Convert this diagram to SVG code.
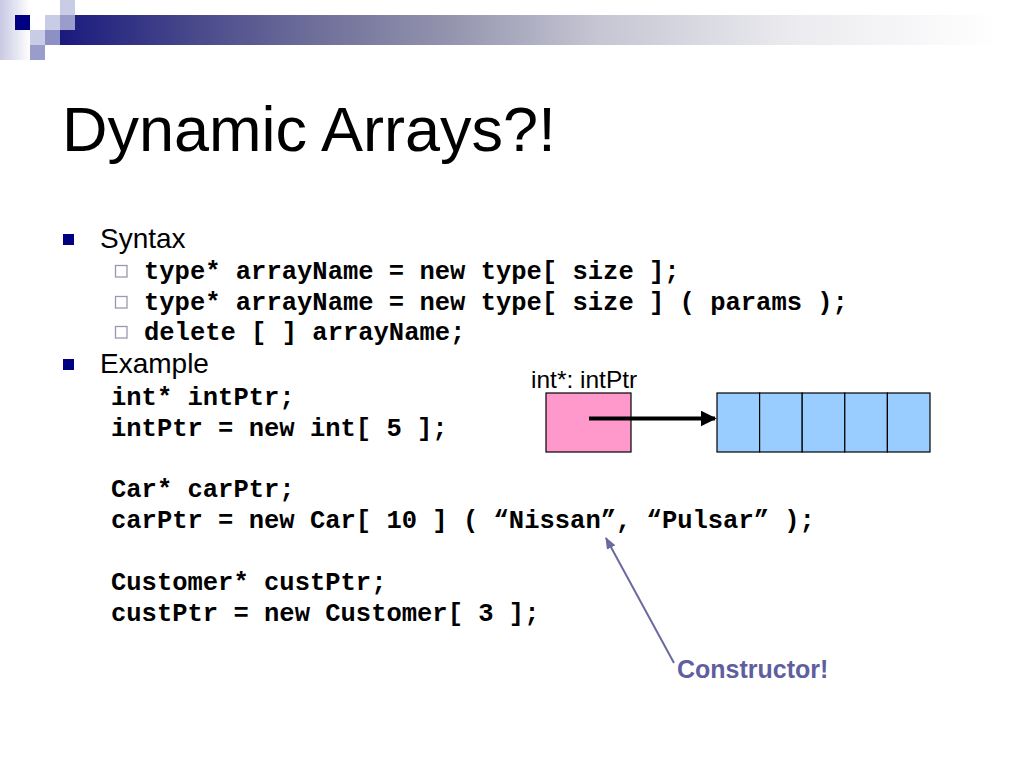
<svg xmlns="http://www.w3.org/2000/svg" width="1024" height="768" viewBox="0 0 1024 768">
<style>
.title{font-family:"Liberation Sans",Arial,sans-serif;font-size:63px;fill:#000}
.lvl1{font-family:"Liberation Sans",Arial,sans-serif;font-size:28px;fill:#000}
.code{font-family:"Liberation Mono","Courier New",monospace;font-weight:bold;font-size:25.5px;fill:#000}
.lbl{font-family:"Liberation Sans",Arial,sans-serif;font-size:24.5px;fill:#000}
.note{font-family:"Liberation Sans",Arial,sans-serif;font-size:25px;font-weight:bold;fill:#5f5f9f}
.b1{fill:#000080}
.b2{fill:#fff;stroke:#9898b0;stroke-width:1.3}
.cell{fill:#99ccff;stroke:#000;stroke-width:1.2}
</style>
<defs>
<linearGradient id="bar" x1="60" y1="0" x2="1000" y2="0" gradientUnits="userSpaceOnUse">
<stop offset="0" stop-color="#1a1a7e"/>
<stop offset="0.128" stop-color="#44448a"/>
<stop offset="0.255" stop-color="#6a6a98"/>
<stop offset="0.415" stop-color="#9494ae"/>
<stop offset="0.574" stop-color="#c6c6d4"/>
<stop offset="0.787" stop-color="#ececf0"/>
<stop offset="1" stop-color="#ffffff"/>
</linearGradient>
<linearGradient id="side" x1="0" y1="0" x2="1" y2="0">
<stop offset="0" stop-color="#c8c8e4"/>
<stop offset="1" stop-color="#ffffff"/>
</linearGradient>
<marker id="ahBlack" viewBox="0 0 10 10" refX="9" refY="5" markerWidth="4" markerHeight="4" orient="auto" markerUnits="strokeWidth">
<path d="M0,0 L10,5 L0,10 Z" fill="#000"/>
</marker>
<marker id="ahBlue" viewBox="0 0 10 10" refX="9" refY="5" markerWidth="6" markerHeight="6" orient="auto" markerUnits="strokeWidth">
<path d="M0,1 L10,5 L0,9 Z" fill="#6a6aa0"/>
</marker>
</defs>
<rect width="1024" height="768" fill="#fff"/>
<g id="header">
<rect x="0" y="0" width="30" height="60" fill="url(#side)"/>
<rect x="75" y="15" width="925" height="15" fill="url(#bar)"/>
<rect x="60" y="30" width="940" height="15" fill="url(#bar)"/>
<rect x="15" y="15" width="15" height="15" fill="#000080"/>
<rect x="60" y="0" width="15" height="15" fill="#c8cce4"/>
<rect x="45" y="15" width="15" height="15" fill="#c8cce4"/>
<rect x="60" y="15" width="15" height="15" fill="#9a9ccc"/>
<rect x="30" y="30" width="15" height="15" fill="#c8cce4"/>
<rect x="45" y="30" width="15" height="15" fill="#8c90c4"/>
<rect x="30" y="45" width="15" height="15" fill="#9a9ccc"/>
</g>
<text class="title" x="62" y="151">Dynamic Arrays?!</text>
<g id="bullets">
<rect class="b1" x="63" y="234" width="11" height="11"/>
<text class="lvl1" x="100" y="248">Syntax</text>
<rect class="b2" x="115.5" y="265.5" width="11.5" height="11.5"/>
<text class="code" x="144" y="279">type* arrayName = new type[ size ];</text>
<rect class="b2" x="115.5" y="296.5" width="11.5" height="11.5"/>
<text class="code" x="144" y="310">type* arrayName = new type[ size ] ( params );</text>
<rect class="b2" x="115.5" y="326.5" width="11.5" height="11.5"/>
<text class="code" x="144" y="340">delete [ ] arrayName;</text>
<rect class="b1" x="63" y="359" width="11" height="11"/>
<text class="lvl1" x="100" y="373">Example</text>
<text class="code" x="111" y="405">int* intPtr;</text>
<text class="code" x="111" y="436">intPtr = new int[ 5 ];</text>
<text class="code" x="111" y="497">Car* carPtr;</text>
<text class="code" x="111" y="528">carPtr = new Car[ 10 ] ( “Nissan”, “Pulsar” );</text>
<text class="code" x="111" y="590">Customer* custPtr;</text>
<text class="code" x="111" y="621">custPtr = new Customer[ 3 ];</text>
</g>
<g id="pointer">
<text class="lbl" x="531" y="388">int*: intPtr</text>
<rect x="546" y="393" width="85" height="59" fill="#ff99cc" stroke="#000" stroke-width="1.2"/>
</g>
<g id="array">
<rect class="cell" x="717" y="393" width="42.6" height="59"/>
<rect class="cell" x="759.6" y="393" width="42.6" height="59"/>
<rect class="cell" x="802.2" y="393" width="42.6" height="59"/>
<rect class="cell" x="844.8" y="393" width="42.6" height="59"/>
<rect class="cell" x="887.4" y="393" width="42.6" height="59"/>
</g>
<g id="note">
<text class="note" x="677" y="678">Constructor!</text>
</g>
<g id="connectors">
<line x1="589" y1="418.5" x2="715" y2="418.5" stroke="#000" stroke-width="4" marker-end="url(#ahBlack)"/>
<line x1="674" y1="663" x2="606" y2="538" stroke="#6a6aa0" stroke-width="2" marker-end="url(#ahBlue)"/>
</g>
</svg>
